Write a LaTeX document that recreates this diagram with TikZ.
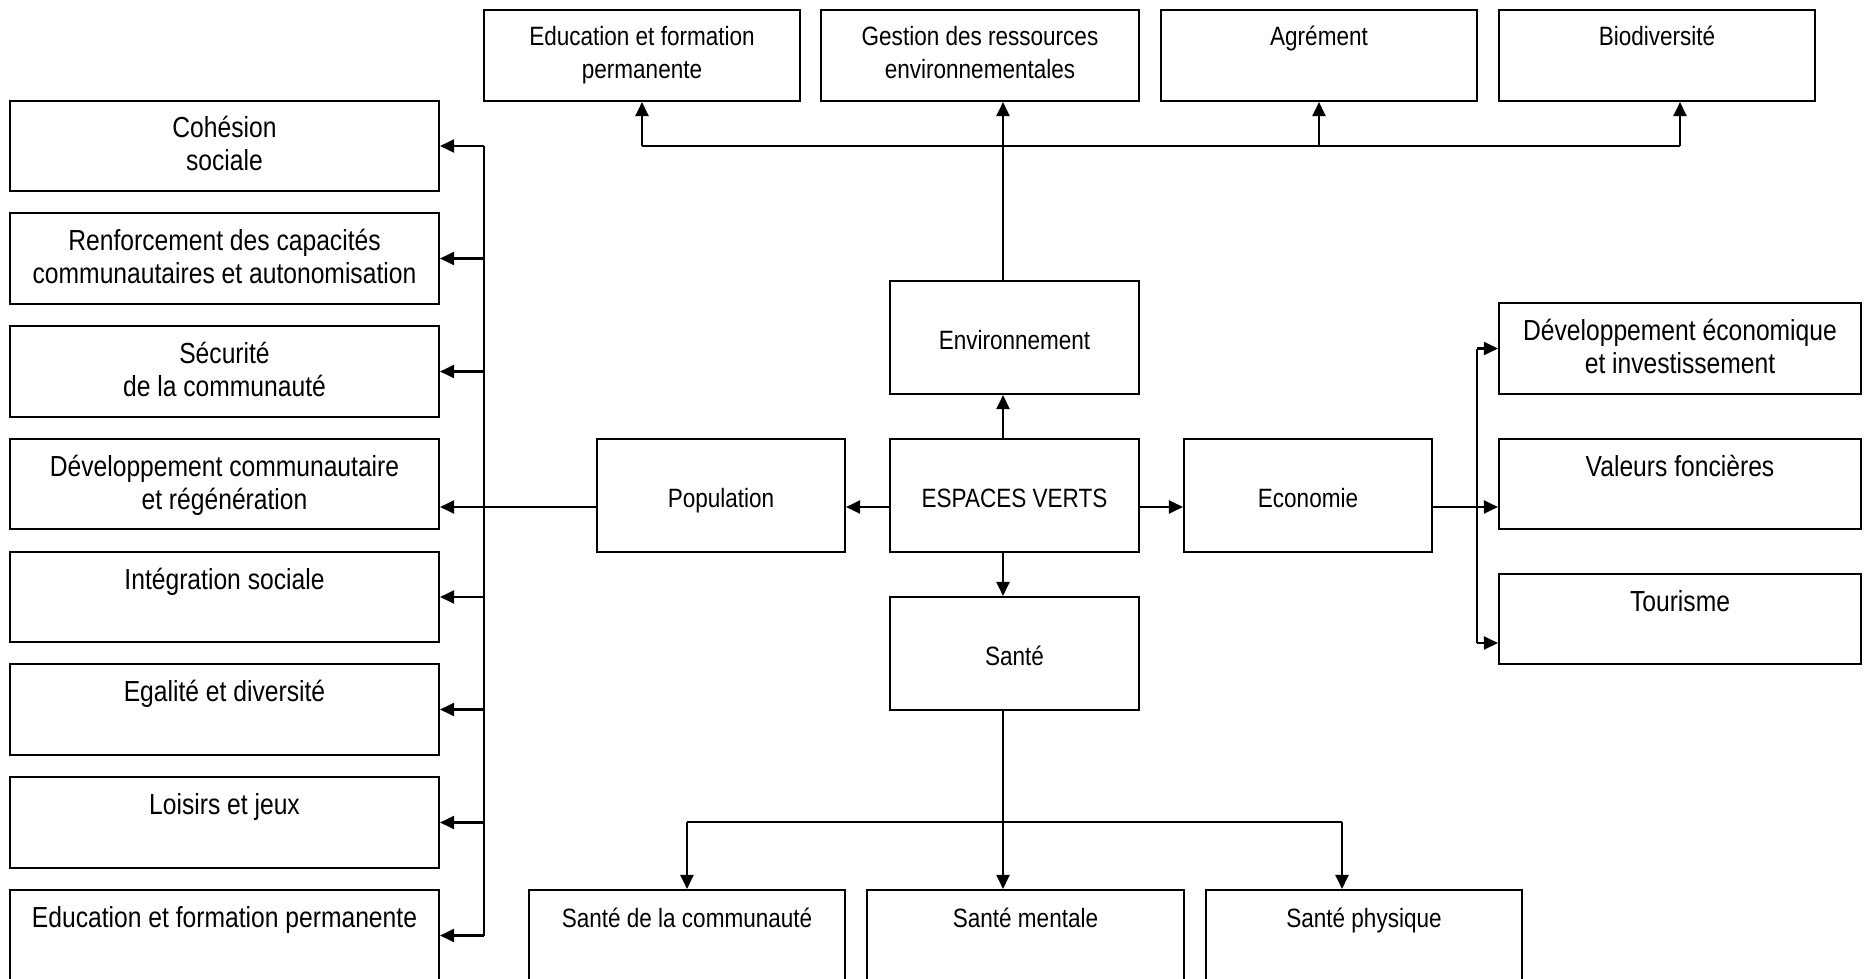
\documentclass[tikz,border=0pt]{standalone}
\usepackage{fontspec}
\setmainfont{Liberation Sans}[FakeStretch=0.85]
\usetikzlibrary{arrows.meta}
\newcommand\fbig{\fontsize{29}{33}\selectfont}
\newcommand\fsmall{\fontsize{26.5}{33}\selectfont}
\tikzset{
  boxst/.style={draw=black, line width=2.1pt, rectangle, inner sep=0pt, fill=white},
  txt/.style={inner sep=0pt, text=black},
  conn/.style={line width=2.1pt, draw=black},
  arr/.style={conn, -{Triangle[length=14pt,width=13pt]}}
}
% name, x1, y1, x2, y2, font, baseline offset, text
\newcommand{\bx}[8]{%
  \node[boxst, minimum width={(#4)-(#2)}, minimum height={(#5)-(#3)}] (#1) at ({((#2)+(#4))/2},{((#3)+(#5))/2}) {};
  \node[txt, font=#6, anchor=base] (#1-t) at ({((#2)+(#4))/2},{(#3)+(#7)}) {\begin{tabular}[t]{@{}c@{}}#8\end{tabular}};
}
\begin{document}
\begin{tikzpicture}[x=1pt,y=-1pt]
\useasboundingbox (0,0) rectangle (1869,979);
\clip (0,0) rectangle (1869,979);
% top row
\bx{edua}{484}{10}{800}{101}{\fsmall}{36}{Education et formation\\permanente}
\bx{gest}{821}{10}{1139}{101}{\fsmall}{36}{Gestion des ressources\\environnementales}
\bx{agr}{1161}{10}{1477}{101}{\fsmall}{36}{Agrément}
\bx{bio}{1499}{10}{1815}{101}{\fsmall}{36}{Biodiversité}
% left column
\bx{coh}{10}{101}{439}{191}{\fbig}{37}{Cohésion\\sociale}
\bx{ren}{10}{213}{439}{304}{\fbig}{37}{Renforcement des capacités\\communautaires et autonomisation}
\bx{sec}{10}{326}{439}{417}{\fbig}{37}{Sécurité\\de la communauté}
\bx{dev}{10}{439}{439}{529}{\fbig}{37}{Développement communautaire\\et régénération}
\bx{integ}{10}{552}{439}{642}{\fbig}{37}{Intégration sociale}
\bx{ega}{10}{664}{439}{755}{\fbig}{37}{Egalité et diversité}
\bx{loi}{10}{777}{439}{868}{\fbig}{37}{Loisirs et jeux}
\bx{edub}{10}{890}{439}{981}{\fbig}{37}{Education et formation permanente}
% centre
\bx{env}{890}{281}{1139}{394}{\fsmall}{68}{Environnement}
\bx{pop}{597}{439}{845}{552}{\fsmall}{68}{Population}
\bx{ev}{890}{439}{1139}{552}{\fsmall}{68}{ESPACES VERTS}
\bx{eco}{1184}{439}{1432}{552}{\fsmall}{68}{Economie}
\bx{san}{890}{597}{1139}{710}{\fsmall}{68}{Santé}
% right column
\bx{deveco}{1499}{303}{1861}{394}{\fbig}{37}{Développement économique\\et investissement}
\bx{val}{1499}{439}{1861}{529}{\fbig}{37}{Valeurs foncières}
\bx{tour}{1499}{574}{1861}{664}{\fbig}{37}{Tourisme}
% bottom row
\bx{sc}{529}{890}{845}{981}{\fsmall}{37}{Santé de la communauté}
\bx{sm}{867}{890}{1184}{981}{\fsmall}{37}{Santé mentale}
\bx{sp}{1206}{890}{1522}{981}{\fsmall}{37}{Santé physique}
% helper coordinates
\coordinate (cx) at (1003,0);
\coordinate (bx) at (1680,0);
\coordinate (px) at (1342,0);
\coordinate (lb) at (484,0);
\coordinate (rb) at (1477,0);
\coordinate (tb) at (0,146);
\coordinate (sb) at (0,822);
\coordinate (my) at (0,507);
\coordinate (ty) at (0,643);
% environment branch
\draw[arr] (ev.north -| cx) -- (env.south -| cx);
\draw[arr] (env.north -| cx) -- (gest.south -| cx);
\draw[conn] (tb -| edua.south) -- (tb -| bx);
\draw[arr] (tb -| edua.south) -- (edua.south);
\draw[arr] (tb -| agr.south) -- (agr.south);
\draw[arr] (tb -| bx) -- (bio.south -| bx);
% population branch
\draw[arr] (ev.west |- my) -- (pop.east |- my);
\draw[arr] (pop.west |- my) -- (dev.east |- my);
\draw[conn] (lb |- coh.east) -- (lb |- edub.east);
\foreach \b in {coh,ren,sec,integ,ega,loi,edub}{
  \draw[arr] (lb |- \b.east) -- (\b.east);
}
% economy branch
\draw[arr] (ev.east |- my) -- (eco.west |- my);
\draw[arr] (eco.east |- my) -- (val.west |- my);
\draw[conn] (rb |- deveco.west) -- (rb |- ty);
\draw[arr] (rb |- deveco.west) -- (deveco.west);
\draw[arr] (rb |- ty) -- (tour.west |- ty);
% health branch
\draw[arr] (ev.south -| cx) -- (san.north -| cx);
\draw[arr] (san.south -| cx) -- (sm.north -| cx);
\draw[conn] (sb -| sc.north) -- (sb -| px);
\draw[arr] (sb -| sc.north) -- (sc.north);
\draw[arr] (sb -| px) -- (sp.north -| px);
\end{tikzpicture}
\end{document}
